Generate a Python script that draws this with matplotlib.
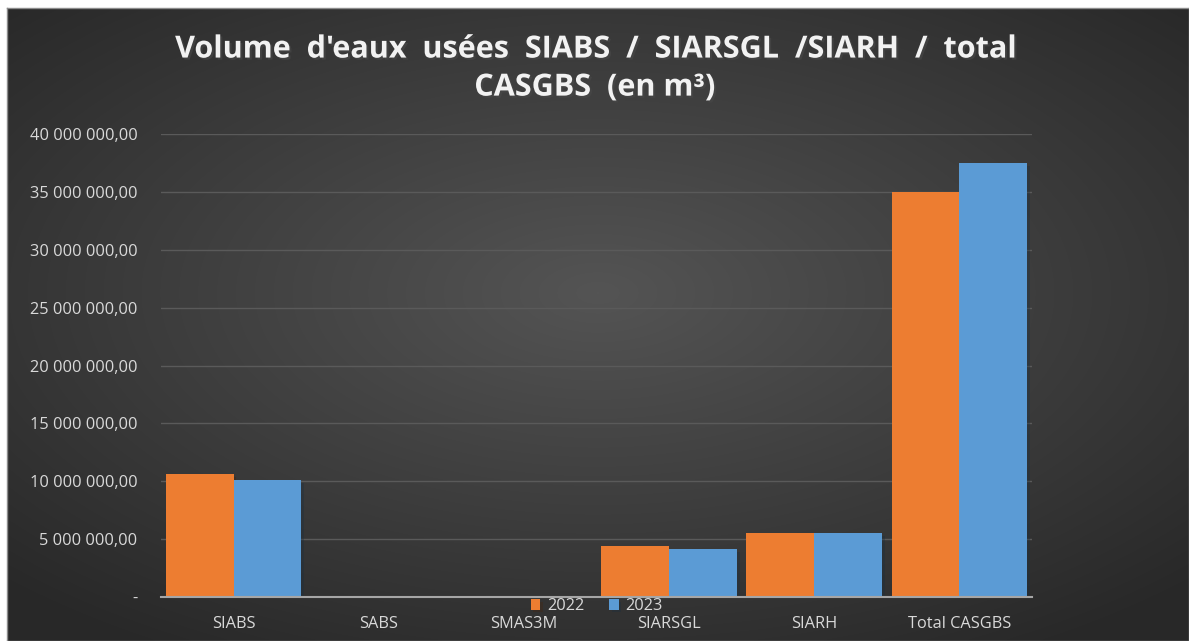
import numpy as np
import matplotlib.pyplot as plt
from matplotlib.ticker import FuncFormatter
import matplotlib.patheffects as pe

# data
categories = ['SIABS', 'SABS', 'SMAS3M', 'SIARSGL', 'SIARH', 'Total CASGBS']
vol_2022 = [10630000, 0, 0, 4410000, 5500000, 35000000]
vol_2023 = [10080000, 0, 0, 4150000, 5500000, 37470000]
series_labels = ['2022', '2023']
title = "Volume  d'eaux  usées  SIABS  /  SIARSGL  /SIARH  /  total\nCASGBS  (en m³)"

plt.rcParams['font.family'] = ['Open Sans', 'DejaVu Sans']

W, H = 1189, 641
fig = plt.figure(figsize=(W / 100, H / 100), dpi=100, facecolor='white')

# dark radial gradient panel
bg = fig.add_axes([7 / W, 0, 1 - 7 / W, 1 - 8 / H])
yy, xx = np.mgrid[-1:1:300j, -1:1:560j]
r = np.sqrt((xx * 0.9) ** 2 + ((yy + 0.1) * 0.95) ** 2)
r = np.clip(r / 1.25, 0, 1)
shade = 0.33 - 0.17 * r
img = np.dstack([shade, shade, shade])
bg.imshow(img, aspect='auto', extent=[0, 1, 0, 1], interpolation='bicubic')
bg.set_xticks([])
bg.set_yticks([])
for s in bg.spines.values():
    s.set_color('#8c8c8c')
    s.set_linewidth(1)
bg.set_zorder(0)

ax = fig.add_axes([161 / W, 1 - 597 / H, (1032 - 161) / W, (597 - 134) / H])
ax.set_zorder(1)
ax.patch.set_alpha(0)

x = np.arange(len(categories))
w = 0.467
shadow = [pe.SimplePatchShadow(offset=(2, -2), alpha=0.35), pe.Normal()]
ax.bar(x - w / 2, vol_2022, w, color='#ED7D31', label=series_labels[0],
       zorder=3, path_effects=shadow)
ax.bar(x + w / 2, vol_2023, w, color='#5B9BD5', label=series_labels[1],
       zorder=3, path_effects=shadow)

ax.set_xlim(-0.5, len(categories) - 0.5)
ax.set_ylim(0, 40000000)
ax.set_yticks(np.arange(0, 40000001, 5000000))


def fmt(v, pos):
    if v == 0:
        return '-'
    return f'{v:,.2f}'.replace(',', ' ').replace('.', ',')


ax.yaxis.set_major_formatter(FuncFormatter(fmt))
ax.grid(axis='y', color='#5a5a5a', linewidth=1, zorder=0)
ax.set_axisbelow(True)
for side in ['top', 'right', 'left']:
    ax.spines[side].set_visible(False)
ax.spines['bottom'].set_color('#a6a6a6')
ax.spines['bottom'].set_linewidth(1.5)
ax.spines['bottom'].set_zorder(4)

ax.set_xticks(x)
ax.set_xticklabels(categories)
ax.tick_params(axis='both', length=0, colors='#d9d9d9', labelsize=11.8)
ax.tick_params(axis='x', pad=14)
ax.tick_params(axis='y', pad=17)

fig.text(0.5, 0.893, title, ha='center', va='center', color='#f2f2f2',
         fontsize=22, fontweight='bold', linespacing=1.35,
         path_effects=[pe.withSimplePatchShadow(offset=(1.5, -1.5), alpha=0.6)])

ax.legend(loc='center', bbox_to_anchor=(0.5, -0.02), ncol=2, frameon=False,
          fontsize=11.8, labelcolor='#d9d9d9', handlelength=0.6, handleheight=0.6,
          columnspacing=1.5, handletextpad=0.4, borderaxespad=0)

fig.savefig('out.png', dpi=100, facecolor='white')
